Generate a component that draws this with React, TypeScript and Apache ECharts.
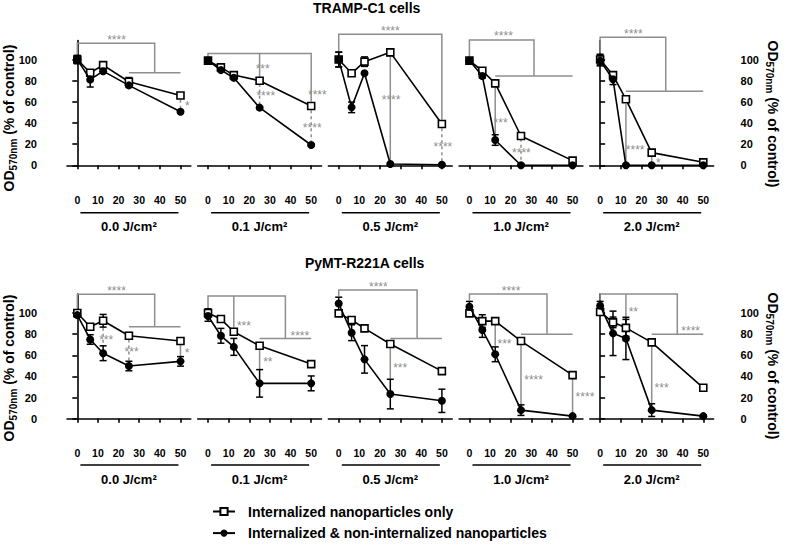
import React, { useEffect, useRef } from "react";
import * as echarts from "echarts";

// ---------- data ----------
const concentrations = [0, 6.25, 12.5, 25, 50];
const doseLabels = ["0.0 J/cm²", "0.1 J/cm²", "0.5 J/cm²", "1.0 J/cm²", "2.0 J/cm²"];
const xTickValues = [0, 10, 20, 30, 40, 50];
const yTickValues = [0, 20, 40, 60, 80, 100];
const cellLines = ["TRAMP-C1 cells", "PyMT-R221A cells"];
const seriesNames = ["Internalized nanoparticles only", "Internalized & non-internalized nanoparticles"];

// TRAMP-C1 (rows: 0.0, 0.1, 0.5, 1.0, 2.0 J/cm²; columns: concentrations)
const trampInternalized = [
  [100, 87.5, 94.7, 79, 66],
  [99, 92.6, 85.3, 80, 56],
  [100, 87, 98, 106.8, 39],
  [99, 89.4, 77.5, 27.7, 4.4],
  [100, 85.3, 62.4, 12, 2.8],
];
const trampInternalizedErr = [
  [2, 2, 2, 4, 2],
  [1, 1, 1, 2, 2],
  [7, 1, 4.5, 3, 2],
  [1, 1, 1, 2, 2],
  [5, 2, 2, 2, 1],
];
const trampTotal = [
  [100, 81, 89, 75.6, 50.7],
  [99, 90, 82.8, 54.5, 19.2],
  [100, 54.8, 87, 1.2, 0.5],
  [99, 84.4, 23.9, 0, 0],
  [99, 81.3, 0, 0, 0],
];
const trampTotalErr = [
  [4, 7, 2, 2, 1],
  [1, 1, 1, 1, 1],
  [7, 5, 1, 1, 1],
  [1, 2, 5, 1, 1],
  [5, 5, 1, 1, 1],
];

// PyMT-R221A
const pymtInternalized = [
  [100, 87, 92.7, 78.5, 73.5],
  [100, 94.3, 82.3, 69, 51.7],
  [99.7, 93.4, 85.5, 70.7, 45.1],
  [99.7, 92.4, 92.4, 73.5, 41.3],
  [101, 91.2, 86, 72.3, 29.3],
];
const pymtInternalizedErr = [
  [2, 1, 6, 3, 1],
  [4, 1, 1, 1, 1],
  [1, 1, 1, 1, 1],
  [1, 6, 1, 1, 1],
  [1, 5, 8, 2, 1],
];
const pymtTotal = [
  [98, 75, 62, 49.9, 54.3],
  [97.2, 78.5, 68, 33.5, 33.5],
  [109, 81.4, 56.2, 23.4, 17],
  [106, 84, 61, 8.2, 2.5],
  [107, 80.8, 76, 8.2, 2.5],
];
const pymtTotalErr = [
  [2, 4.5, 7, 4.5, 4.5],
  [5, 7, 8, 13, 7],
  [6, 7.5, 13, 14, 11],
  [5, 7, 7, 5, 1],
  [4, 21, 20, 6, 1],
];

// significance brackets (polylines in data units)
const trampBrackets = [
  [[[0, 104], [0, 115.3], [37.5, 115.3], [37.5, 87.5]], [[25, 87.5], [50, 87.5]]],
  [[[0, 101.5], [0, 105.8], [50, 105.8], [50, 60]], [[25, 105.8], [25, 83]]],
  [[[0, 107], [0, 123.8], [50, 123.8], [50, 43]]],
  [[[0, 103], [0, 118.4], [31.3, 118.4], [31.3, 84.4]], [[12.5, 84.4], [50, 84.4]]],
  [[[0, 106], [0, 121], [31.8, 121], [31.8, 70]], [[12.5, 70], [50, 70]]],
];
const pymtBrackets = [
  [[[0, 104.4], [0, 117.7], [37.5, 117.7], [37.5, 87]], [[25, 87], [50, 87]]],
  [[[0, 104], [0, 116], [37.5, 116], [37.5, 76]], [[12.5, 116], [12.5, 86]], [[25, 76], [50, 76]]],
  [[[0, 116], [0, 121.8], [38, 121.8], [38, 76]], [[25, 76], [50, 76]]],
  [[[0, 112], [0, 118], [37.6, 118], [37.6, 80]], [[25, 80], [50, 80]]],
  [[[0, 112], [0, 118], [37.4, 118], [37.4, 80]], [[12.5, 118], [12.5, 96]], [[25, 80], [50, 80]]],
];
// vertical comparison lines: [x, from, to, dashed]
const trampSigLines = [
  [[50, 62, 54, 1]],
  [[25, 77, 58, 1], [50, 52, 23, 1]],
  [[25, 103, 4, 0], [50, 35, 3, 1]],
  [[12.5, 74, 28, 0], [25, 25, 3, 1]],
  [[12.5, 58, 3, 0], [25, 9, 3, 0]],
];
const pymtSigLines = [
  [[12.5, 86, 70, 1], [25, 75, 55, 1], [50, 70, 59, 0]],
  [[25, 66, 47, 0]],
  [[25, 67, 38, 0]],
  [[12.5, 89, 69, 0], [25, 70, 14, 0], [50, 38, 4, 0]],
  [[25, 69, 15, 0]],
];
// asterisks: [x, y, text]
const trampStars = [
  [[19, 121.5, "****"], [53.3, 58.6, "*"]],
  [[26.5, 93.8, "***"], [28, 68, "****"], [53, 69, "****"], [50.5, 38, "****"]],
  [[25, 129.5, "****"], [25.4, 65, "****"], [50.5, 20, "****"]],
  [[16.5, 124.8, "****"], [15.1, 42.8, "***"], [25.2, 14.4, "****"]],
  [[16.1, 127, "****"], [17, 17.6, "****"], [28.2, 5, "*"]],
];
const pymtStars = [
  [[19, 123.5, "****"], [14, 77.6, "***"], [26.3, 65.6, "***"], [53.2, 65, "*"]],
  [[17.4, 90.8, "***"], [44.5, 81.4, "****"], [29, 56.5, "**"]],
  [[19.2, 127, "****"], [29.8, 50.8, "***"]],
  [[20.2, 124, "****"], [17, 73.5, "***"], [31.1, 39.7, "****"], [56, 23, "****"]],
  [[16.1, 103.8, "**"], [43.9, 86, "****"], [29.8, 31.9, "***"]],
];

// ---------- layout / style ----------
const FONT = '"Liberation Sans", Arial, Helvetica, sans-serif';
const GRAY = "#8e8e8e";
const rowTop = [40.5, 294];
const gridH = 124.8;
const gridLeft0 = 67;
const gridStep = 130.7;
const gridW = 123.8;
const xAxisOffset = [21, 20.5];
const underlineOffset = [47.4, 46.3];

const rows = [
  { ins: trampInternalized, insErr: trampInternalizedErr, tot: trampTotal, totErr: trampTotalErr, br: trampBrackets, sl: trampSigLines, st: trampStars },
  { ins: pymtInternalized, insErr: pymtInternalizedErr, tot: pymtTotal, totErr: pymtTotalErr, br: pymtBrackets, sl: pymtSigLines, st: pymtStars },
];

function buildOption() {
  const grid: any[] = [];
  const xAxis: any[] = [];
  const yAxis: any[] = [];
  const series: any[] = [];

  rows.forEach((row, r) => {
    for (let p = 0; p < 5; p++) {
      const g = r * 5 + p;
      grid.push({ left: gridLeft0 + p * gridStep, top: rowTop[r], width: gridW, height: gridH });
      xAxis.push({
        type: "value",
        gridIndex: g,
        min: -5,
        max: 55,
        position: "bottom",
        offset: xAxisOffset[r],
        axisLine: { show: true, lineStyle: { color: "#000", width: 1.6 } },
        axisTick: { show: true, customValues: xTickValues, length: 4, lineStyle: { color: "#000", width: 1.6 } },
        axisLabel: { customValues: xTickValues, color: "#000", fontWeight: "bold", fontSize: 10.5, fontFamily: FONT, margin: 8 },
        splitLine: { show: false },
        name: doseLabels[p],
        nameLocation: "middle",
        nameGap: 34,
        nameTextStyle: { color: "#000", fontWeight: "bold", fontSize: 13, fontFamily: FONT },
      });
      const showY = p === 0 || p === 4;
      yAxis.push({
        type: "value",
        gridIndex: g,
        min: 0,
        max: 118,
        show: showY,
        position: p === 4 ? "right" : "left",
        offset: 20,
        axisLine: { show: true, lineStyle: { color: "#000", width: 1.6 } },
        axisTick: { show: true, customValues: yTickValues, length: 5, lineStyle: { color: "#000", width: 1.6 } },
        axisLabel: { customValues: yTickValues, color: "#000", fontWeight: "bold", fontSize: 11, fontFamily: FONT, margin: p === 4 ? 7 : 10 },
        splitLine: { show: false },
      });

      const brackets = row.br[p];
      const sigLines = row.sl[p];
      const stars = row.st[p];
      const uOff = underlineOffset[r];
      series.push({
        type: "custom",
        name: "annotations",
        xAxisIndex: g,
        yAxisIndex: g,
        clip: false,
        silent: true,
        z: 1,
        data: [[0, 0]],
        renderItem: (_params: any, api: any) => {
          const children: any[] = [];
          brackets.forEach((poly: number[][]) => {
            children.push({
              type: "polyline",
              shape: { points: poly.map((pt) => api.coord(pt)) },
              style: { stroke: GRAY, lineWidth: 1.5, fill: null },
            });
          });
          sigLines.forEach((l: number[]) => {
            const a = api.coord([l[0], l[1]]);
            const b = api.coord([l[0], l[2]]);
            children.push({
              type: "line",
              shape: { x1: a[0], y1: a[1], x2: b[0], y2: b[1] },
              style: { stroke: GRAY, lineWidth: 1.5, lineDash: l[3] ? [3, 3] : null },
            });
          });
          stars.forEach((s: any[]) => {
            const c = api.coord([s[0], s[1]]);
            children.push({
              type: "text",
              x: c[0],
              y: c[1] + 3,
              style: { text: s[2], fill: GRAY, fontSize: 12, fontFamily: FONT, align: "center", verticalAlign: "middle" },
            });
          });
          const u1 = api.coord([1.5, 0]);
          const u2 = api.coord([49, 0]);
          children.push({
            type: "line",
            shape: { x1: u1[0], y1: u1[1] + uOff, x2: u2[0], y2: u2[1] + uOff },
            style: { stroke: "#000", lineWidth: 1.5 },
          });
          return { type: "group", children };
        },
      });

      const errSeries = (vals: number[], errs: number[], name: string) => ({
        type: "custom",
        name,
        xAxisIndex: g,
        yAxisIndex: g,
        clip: false,
        silent: true,
        z: 2,
        encode: { x: 0, y: [1, 2] },
        data: concentrations.map((c, i) => [c, vals[i] - errs[i], vals[i] + errs[i]]),
        renderItem: (_params: any, api: any) => {
          const x = api.value(0);
          const lo = api.coord([x, Math.max(api.value(1), 0)]);
          const hi = api.coord([x, api.value(2)]);
          const w = 3.5;
          const st = { stroke: "#000", lineWidth: 1.5 };
          return {
            type: "group",
            children: [
              { type: "line", shape: { x1: lo[0], y1: lo[1], x2: hi[0], y2: hi[1] }, style: st },
              { type: "line", shape: { x1: lo[0] - w, y1: lo[1], x2: lo[0] + w, y2: lo[1] }, style: st },
              { type: "line", shape: { x1: hi[0] - w, y1: hi[1], x2: hi[0] + w, y2: hi[1] }, style: st },
            ],
          };
        },
      });
      series.push(errSeries(row.ins[p], row.insErr[p], "err-ins"));
      series.push(errSeries(row.tot[p], row.totErr[p], "err-tot"));

      series.push({
        type: "line",
        name: seriesNames[0],
        xAxisIndex: g,
        yAxisIndex: g,
        z: 3,
        clip: false,
        data: concentrations.map((c, i) => [c, row.ins[p][i]]),
        symbol: "rect",
        symbolSize: 7,
        showSymbol: true,
        itemStyle: { color: "#fff", borderColor: "#000", borderWidth: 1.6 },
        lineStyle: { color: "#000", width: 1.6 },
      });
      series.push({
        type: "line",
        name: seriesNames[1],
        xAxisIndex: g,
        yAxisIndex: g,
        z: 4,
        clip: false,
        data: concentrations.map((c, i) => [c, row.tot[p][i]]),
        symbol: "circle",
        symbolSize: 8,
        showSymbol: true,
        itemStyle: { color: "#000", borderColor: "#000", borderWidth: 0 },
        lineStyle: { color: "#000", width: 1.6 },
      });
    }
  });

  const yLabelRich = {
    a: { fontSize: 14, fontWeight: "bold", fontFamily: FONT, fill: "#000", lineHeight: 18 },
    b: { fontSize: 10, fontWeight: "bold", fontFamily: FONT, fill: "#000", lineHeight: 10, verticalAlign: "bottom" },
  };
  const yLabelText = "{a|OD}{b|570nm}{a| (% of control)}";
  const yLabels = [
    { x: 9, y: 118, rot: Math.PI / 2 },
    { x: 9, y: 368, rot: Math.PI / 2 },
    { x: 773, y: 114, rot: -Math.PI / 2 },
    { x: 773, y: 366, rot: -Math.PI / 2 },
  ];

  return {
    animation: false,
    backgroundColor: "#fff",
    title: cellLines.map((t, r) => ({
      text: t,
      left: [313, 305][r],
      top: [1, 256][r],
      padding: 0,
      textStyle: { fontSize: 14, fontWeight: "bold", color: "#000", fontFamily: FONT },
    })),
    legend: {
      data: seriesNames,
      orient: "vertical",
      left: 212,
      top: 504.5,
      padding: 0,
      itemWidth: 22,
      itemHeight: 9,
      itemGap: 7.6,
      selectedMode: false,
      textStyle: { fontSize: 14, fontWeight: "bold", color: "#000", fontFamily: FONT, padding: [0, 0, 0, 8] },
    },
    grid,
    xAxis,
    yAxis,
    series,
    graphic: yLabels.map((l) => ({
      type: "text",
      x: l.x,
      y: l.y,
      rotation: l.rot,
      silent: true,
      style: { text: yLabelText, rich: yLabelRich, align: "center", verticalAlign: "middle" },
    })),
  };
}

export default function App() {
  const ref = useRef<HTMLDivElement>(null);
  useEffect(() => {
    if (!ref.current) return;
    const chart = echarts.init(ref.current, undefined, { renderer: "svg" });
    chart.setOption(buildOption() as any);
    return () => chart.dispose();
  }, []);
  return <div ref={ref} style={{ position: "fixed", left: 0, top: 0, width: 785, height: 544 }} />;
}
